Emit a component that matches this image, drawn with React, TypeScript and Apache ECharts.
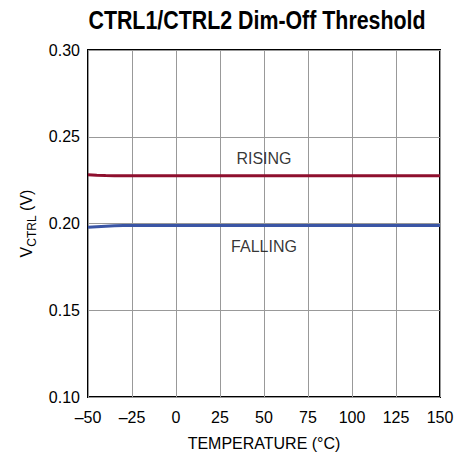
import React, { useEffect, useRef } from "react";
import * as echarts from "echarts";

const TITLE = "CTRL1/CTRL2 Dim-Off Threshold";
const X_NAME = "TEMPERATURE (°C)";
const temps = [-50, -45, -40, -35, -30, -25, 0, 25, 50, 75, 100, 125, 150];
const rising = [0.2281, 0.2278, 0.2276, 0.2275, 0.2275, 0.2275, 0.2275, 0.2275, 0.2275, 0.2275, 0.2275, 0.2275, 0.2275];
const falling = [0.1978, 0.1981, 0.1984, 0.1987, 0.1988, 0.1989, 0.1989, 0.1989, 0.1989, 0.1989, 0.1989, 0.1989, 0.1989];
const labels = [
  { text: "RISING", x: 50, y: 0.2374 },
  { text: "FALLING", x: 50, y: 0.1868 },
];

const FONT = "'Liberation Sans', Arial, sans-serif";

export default function App() {
  const ref = useRef<HTMLDivElement>(null);
  useEffect(() => {
    const chart = echarts.init(ref.current!, null, { renderer: "svg" });
    chart.setOption({
      animation: false,
      backgroundColor: "#fff",
      textStyle: { fontFamily: FONT },
      graphic: [
        {
          type: "text",
          x: 257,
          y: 20,
          scaleX: 0.855,
          style: {
            text: TITLE,
            fontFamily: FONT,
            fontWeight: "bold",
            fontSize: 25,
            fill: "#000",
            align: "center",
            verticalAlign: "middle",
          },
        },
      ],
      grid: { left: 88, right: 27, top: 50, bottom: 55, show: true, borderColor: "#000", borderWidth: 2, backgroundColor: "transparent" },
      xAxis: {
        type: "value",
        min: -50,
        max: 150,
        interval: 25,
        name: X_NAME,
        nameLocation: "middle",
        nameGap: 38,
        nameTextStyle: { fontFamily: FONT, fontSize: 16, color: "#000" },
        axisLine: { show: false },
        axisTick: { show: false },
        axisLabel: {
          fontFamily: FONT,
          fontSize: 16,
          color: "#000",
          margin: 12,
          formatter: (v: number) => String(v).replace("-", "\u2013"),
        },
        splitLine: { show: true, lineStyle: { color: "#999", width: 1 } },
      },
      yAxis: {
        type: "value",
        min: 0.1,
        max: 0.3,
        interval: 0.05,
        name: "{v|V}{s|CTRL}{v| (V)}",
        nameLocation: "middle",
        nameGap: 53,
        nameTextStyle: {
          rich: {
            v: { fontFamily: FONT, fontSize: 16, color: "#000", verticalAlign: "bottom" },
            s: { fontFamily: FONT, fontSize: 12, color: "#000", verticalAlign: "bottom", padding: [0, 0, -3, 0] },
          },
        },
        axisLine: { show: false },
        axisTick: { show: false },
        axisLabel: {
          fontFamily: FONT,
          fontSize: 16,
          color: "#000",
          margin: 8,
          formatter: (v: number) => v.toFixed(2),
        },
        splitLine: { show: true, lineStyle: { color: "#999", width: 1 } },
      },
      series: [
        {
          type: "line",
          data: temps.map((t, i) => [t, rising[i]]),
          showSymbol: false,
          symbol: "none",
          lineStyle: { color: "#8e0f2e", width: 3 },
          z: 3,
        },
        {
          type: "line",
          data: temps.map((t, i) => [t, falling[i]]),
          showSymbol: false,
          symbol: "none",
          lineStyle: { color: "#3a55a5", width: 3 },
          z: 3,
        },
        {
          type: "scatter",
          data: labels.map((l) => ({ value: [l.x, l.y], name: l.text })),
          symbolSize: 0,
          silent: true,
          label: {
            show: true,
            position: "inside",
            formatter: (p: any) => p.name,
            fontFamily: FONT,
            fontSize: 16,
            color: "#000",
          },
        },
      ],
    });
    return () => chart.dispose();
  }, []);
  return <div ref={ref} style={{ position: "fixed", left: 0, top: 0, width: 467, height: 456 }} />;
}
